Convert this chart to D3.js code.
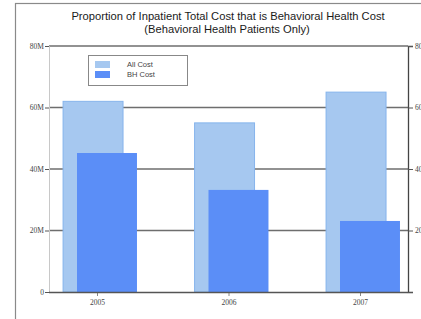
<!DOCTYPE html>
<html><head><meta charset="utf-8">
<script src="https://cdn.jsdelivr.net/npm/d3@7"></script>
<style>body{margin:0;background:#fff;}svg{display:block;font-family:"Liberation Sans",Arial,sans-serif;}</style>
</head><body>
<script>
const years = ["2005","2006","2007"];
const allCost = [62e6, 55e6, 65e6];
const bhCost = [45.2e6, 33.2e6, 23.1e6];
const yTicks = [0, 20e6, 40e6, 60e6, 80e6];
const yTickLabels = ["0","20M","40M","60M","80M"];
const rightTickLabels = ["","20","40","60","80"];
const seriesNames = ["All Cost","BH Cost"];
const colors = ["#a6c8f0","#5b8ef7"];

(function(){
const W=421,H=319;
const svg=d3.select("body").append("svg").attr("width",W).attr("height",H);
// outer frame
svg.append("rect").attr("x",15.5).attr("y",3.5).attr("width",440).attr("height",400).attr("fill","none").attr("stroke","#8a8a8a").attr("stroke-width",1.2);

const pl=49,pr=408,pt=46,pb=292;
const x=d3.scalePoint().domain(years).range([97,360]);
const step=x.step();
const y=d3.scaleLinear().domain([0,80e6]).range([pb,pt]);

// title
svg.append("text").attr("x",228).attr("y",20).attr("text-anchor","middle").attr("font-size",11.2).attr("fill","#1a1a1a").text("Proportion of Inpatient Total Cost that is Behavioral Health Cost");
svg.append("text").attr("x",227).attr("y",33).attr("text-anchor","middle").attr("font-size",11.2).attr("fill","#1a1a1a").text("(Behavioral Health Patients Only)");

// gridlines
svg.append("g").selectAll("line").data(yTicks.filter(d=>d>0)).join("line")
 .attr("x1",pl).attr("x2",pr).attr("y1",d=>y(d)).attr("y2",d=>y(d))
 .attr("stroke","#6e6e6e").attr("stroke-width",1.3);

// bars
const bw=step*0.456;
svg.append("g").selectAll("rect").data(allCost).join("rect")
 .attr("x",(d,i)=>x(years[i])-step*0.258).attr("width",bw)
 .attr("y",d=>y(d)).attr("height",d=>pb-y(d))
 .attr("fill",colors[0]).attr("stroke","#86b4ec").attr("stroke-width",1);
svg.append("g").selectAll("rect").data(bhCost).join("rect")
 .attr("x",(d,i)=>x(years[i])-step*0.152).attr("width",bw)
 .attr("y",d=>y(d)).attr("height",d=>pb-y(d))
 .attr("fill",colors[1]);

// left axis
const la=svg.append("g").attr("transform",`translate(${pl},0)`)
 .call(d3.axisLeft(y).tickValues(yTicks).tickFormat((d,i)=>yTickLabels[i]).tickSize(4).tickPadding(1));
la.select(".domain").attr("stroke","#c8c8c8");
la.selectAll(".tick line").attr("stroke","#555");
la.selectAll("text").attr("font-size",7.5).attr("fill","#444").attr("font-family","Liberation Serif, serif");

// right axis
const ra=svg.append("g").attr("transform",`translate(${pr},0)`)
 .call(d3.axisRight(y).tickValues(yTicks).tickFormat((d,i)=>rightTickLabels[i]).tickSize(5).tickPadding(2));
ra.select(".domain").attr("stroke","#444").attr("stroke-width",1.3);
ra.selectAll(".tick line").attr("stroke","#555");
ra.selectAll("text").attr("font-size",7.5).attr("fill","#444").attr("font-family","Liberation Serif, serif");

// bottom axis
const ba=svg.append("g").attr("transform",`translate(0,${pb})`)
 .call(d3.axisBottom(x).tickSize(4).tickPadding(4));
ba.select(".domain").remove();
svg.append("line").attr("x1",pl).attr("x2",pr).attr("y1",pb+0.5).attr("y2",pb+0.5).attr("stroke","#555").attr("stroke-width",1.3);
ba.selectAll(".tick line").attr("stroke","#888");
ba.selectAll("text").attr("font-size",7.5).attr("fill","#444").attr("font-family","Liberation Serif, serif");

// legend
const lg=svg.append("g");
lg.append("rect").attr("x",88.5).attr("y",55.5).attr("width",99).attr("height",30).attr("fill","#fff").attr("stroke","#888");
seriesNames.forEach((n,i)=>{
  lg.append("rect").attr("x",95).attr("y",61+i*10).attr("width",15).attr("height",7).attr("fill",colors[i]);
  lg.append("text").attr("x",127).attr("y",67+i*10).attr("font-size",7.5).attr("fill","#444").text(n);
});
})();
</script>
</body></html>
